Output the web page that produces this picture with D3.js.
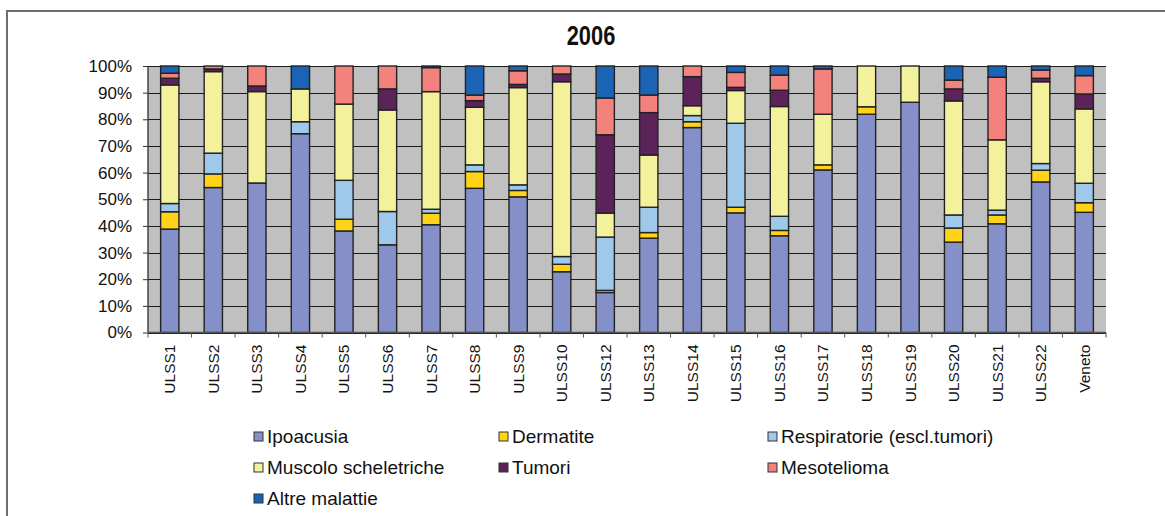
<!DOCTYPE html>
<html>
<head>
<meta charset="utf-8">
<script src="https://cdn.jsdelivr.net/npm/d3@7/dist/d3.min.js"></script>
<style>
  html, body { margin: 0; padding: 0; background: #fff; }
  svg { display: block; }
  .reg { font-family: "Liberation Sans", Arial, sans-serif; }
</style>
</head>
<body>
<svg id="chart" width="1165" height="516"></svg>
<script>
// Occupational disease reports by ULSS, 2006 (share of each disease group, %)
const categories = ["ULSS1","ULSS2","ULSS3","ULSS4","ULSS5","ULSS6","ULSS7","ULSS8","ULSS9","ULSS10","ULSS12",
                    "ULSS13","ULSS14","ULSS15","ULSS16","ULSS17","ULSS18","ULSS19","ULSS20","ULSS21","ULSS22","Veneto"];

const seriesNames = ["Ipoacusia","Dermatite","Respiratorie (escl.tumori)","Muscolo scheletriche","Tumori","Mesotelioma","Altre malattie"];

const ipoacusia    = [38.8, 54.4, 56.1, 74.6, 38.1, 32.9, 40.4, 54.1, 50.9, 22.8, 15.0, 35.4, 76.9, 44.9, 36.3, 61.0, 81.9, 86.4, 33.9, 40.8, 56.5, 45.1];
const dermatite    = [ 6.5,  5.1,  0.0,  0.0,  4.4,  0.0,  4.3,  6.3,  2.4,  2.8,  0.8,  2.1,  2.2,  2.1,  2.0,  1.9,  2.8,  0.0,  5.3,  3.3,  4.4,  3.6];
const respiratorie = [ 3.1,  7.8,  0.0,  4.5, 14.6, 12.5,  1.5,  2.5,  2.1,  2.9, 20.0,  9.5,  2.3, 31.5,  5.3,  0.0,  0.0,  0.0,  4.9,  1.8,  2.5,  7.3];
const muscolo      = [44.5, 30.6, 34.3, 12.3, 28.6, 38.1, 44.1, 21.6, 36.5, 65.6,  9.0, 19.6,  3.7, 12.3, 41.2, 19.0, 15.3, 13.6, 42.8, 26.4, 30.7, 27.9];
const tumori       = [ 2.5,  1.0,  2.1,  0.0,  0.0,  7.9,  0.0,  2.5,  1.2,  2.9, 29.4, 15.9, 10.9,  1.2,  6.1,  0.0,  0.0,  0.0,  4.5,  0.0,  1.3,  5.6];
const mesotelioma  = [ 1.9,  1.1,  7.5,  0.0, 14.3,  8.6,  9.0,  2.1,  5.1,  3.0, 13.8,  6.6,  4.0,  5.6,  5.7, 17.0,  0.0,  0.0,  3.3, 23.5,  3.1,  6.9];
const altre        = [ 2.7,  0.0,  0.0,  8.6,  0.0,  0.0,  0.6, 10.9,  1.8,  0.0, 12.0, 10.9,  0.0,  2.4,  3.4,  1.1,  0.0,  0.0,  5.3,  4.2,  1.5,  3.6];

const yTicks = [0, 10, 20, 30, 40, 50, 60, 70, 80, 90, 100];

const colors = ["#8590C8", "#FFD317", "#9EC9EB", "#F3F19C", "#5B2359", "#F3827C", "#1B63B4"];

// Build row table for the stack layout
const seriesData = [ipoacusia, dermatite, respiratorie, muscolo, tumori, mesotelioma, altre];
const rows = categories.map((c, i) => {
  const r = { cat: c };
  seriesNames.forEach((s, k) => { r[s] = seriesData[k][i]; });
  return r;
});
const stacked = d3.stack().keys(seriesNames).offset(d3.stackOffsetExpand)(rows);

const svg = d3.select("#chart");

// Outer chart frame
svg.append("path")
  .attr("d", "M7,516V11H1165")
  .attr("fill", "none")
  .attr("stroke", "#6e6e6e")
  .attr("stroke-width", 2);

const plot = { left: 148, right: 1106, top: 66, bottom: 332.5 };

const x = d3.scaleBand().domain(categories).range([plot.left, plot.right]).paddingInner(0.58).paddingOuter(0.29);
const y = d3.scaleLinear().domain([0, 1]).range([plot.bottom, plot.top]);

// Plot background
svg.append("rect")
  .attr("x", plot.left).attr("y", plot.top)
  .attr("width", plot.right - plot.left).attr("height", plot.bottom - plot.top)
  .attr("fill", "#C0C0C0");

// Horizontal gridlines
svg.append("g")
  .selectAll("line")
  .data(yTicks)
  .join("line")
  .attr("x1", plot.left).attr("x2", plot.right)
  .attr("y1", d => Math.round(y(d / 100)) + 0.5)
  .attr("y2", d => Math.round(y(d / 100)) + 0.5)
  .attr("stroke", "#1a1a1a")
  .attr("stroke-width", 1);

// Stacked bars
svg.append("g")
  .selectAll("g")
  .data(stacked)
  .join("g")
  .attr("fill", (d, i) => colors[i])
  .selectAll("rect")
  .data(d => d.filter(p => p[1] - p[0] > 0))
  .join("rect")
  .attr("x", d => x(d.data.cat))
  .attr("width", x.bandwidth())
  .attr("y", d => y(d[1]))
  .attr("height", d => y(d[0]) - y(d[1]))
  .attr("stroke", "#222")
  .attr("stroke-width", 1.4);

// Y axis
const yAxis = d3.axisLeft(y)
  .tickValues(yTicks.map(v => v / 100))
  .tickFormat(d => Math.round(d * 100) + "%")
  .tickSize(5)
  .tickPadding(11);
const gy = svg.append("g")
  .attr("transform", `translate(${plot.left},0)`)
  .call(yAxis);
gy.select(".domain").attr("stroke", "#444").attr("stroke-width", 1.5).attr("d", `M0,${plot.top}V${plot.bottom}`);
gy.selectAll(".tick line").attr("stroke", "#333");
gy.selectAll(".tick text")
  .attr("class", "reg")
  .attr("font-size", 17)
  .attr("fill", "#111");

// X axis with ticks between categories
const gx = svg.append("g").attr("transform", `translate(0,${plot.bottom})`);
gx.append("line")
  .attr("x1", plot.left).attr("x2", plot.right)
  .attr("y1", 0).attr("y2", 0)
  .attr("stroke", "#555").attr("stroke-width", 1.5);
const step = x.step();
gx.selectAll("line.tk")
  .data(d3.range(categories.length + 1))
  .join("line")
  .attr("class", "tk")
  .attr("x1", i => plot.left + i * step)
  .attr("x2", i => plot.left + i * step)
  .attr("y1", 0).attr("y2", 5)
  .attr("stroke", "#555");
gx.selectAll("text")
  .data(categories)
  .join("text")
  .attr("class", "reg")
  .attr("font-size", 15.5)
  .attr("fill", "#111")
  .attr("text-anchor", "end")
  .attr("transform", d => `translate(${x(d) + x.bandwidth() / 2 + 5.5},12) rotate(-90)`)
  .text(d => d);

// Title (condensed bold)
svg.append("text")
  .attr("class", "reg")
  .attr("transform", "translate(591,45) scale(0.78,1)")
  .attr("text-anchor", "middle")
  .attr("font-size", 28)
  .attr("font-weight", "bold")
  .attr("fill", "#111")
  .text("2006");

// Legend: three columns
const legendCols = [254, 499, 768];
const legendRows = [437, 468, 499];
const lg = svg.append("g");
seriesNames.forEach((name, i) => {
  const cx = legendCols[i % 3], cy = legendRows[Math.floor(i / 3)];
  lg.append("rect")
    .attr("x", cx).attr("y", cy - 5)
    .attr("width", 9).attr("height", 9)
    .attr("fill", colors[i])
    .attr("stroke", "#333").attr("stroke-width", 1);
  lg.append("text")
    .attr("class", "reg")
    .attr("x", cx + 13).attr("y", cy + 6)
    .attr("font-size", 19)
    .attr("fill", "#111")
    .text(name);
});
</script>
</body>
</html>
